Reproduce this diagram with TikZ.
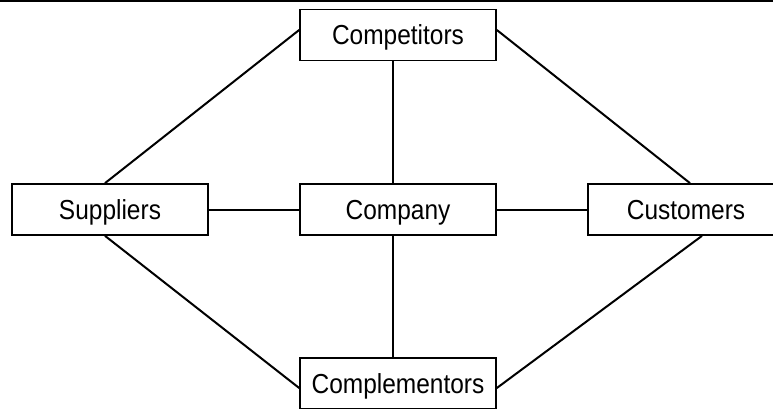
\documentclass[tikz,border=0pt]{standalone}
\usepackage{fontspec}
\setmainfont[FakeStretch=0.89]{Liberation Sans}
\begin{document}
\begin{tikzpicture}[x=1pt,y=1pt,
  box/.style={draw,line width=1.7pt,minimum width=196pt,minimum height=51pt,inner sep=0pt,
    font=\fontsize{27.5}{30}\selectfont,text height=19.6pt,text depth=0pt},
  conn/.style={line width=2pt}]
\useasboundingbox (0,0) rectangle (773,408);
\clip (0,0) rectangle (773,408);
\draw[line width=1.8pt] (0,407.3) -- (773,407.3);
\node[box] (comp) at (398,373) {Competitors};
\node[box] (sup) at (110,198.5) {Suppliers};
\node[box] (co) at (398,198.5) {Company};
\node[box] (cust) at (686,198.5) {Customers};
\node[box] (compl) at (398,24.5) {Complementors};
\draw[conn] ([yshift=5pt]comp.west) -- ([xshift=-5pt]sup.north);
\draw[conn] ([yshift=5pt]comp.east) -- ([xshift=4pt]cust.north);
\draw[conn] ([xshift=-5pt]sup.south) -- ([yshift=-4.5pt]compl.west);
\draw[conn] ([xshift=16pt]cust.south) -- ([yshift=-4.5pt]compl.east);
\draw[conn] ([xshift=-5pt]comp.south) -- ([xshift=-5pt]co.north);
\draw[conn] ([xshift=-5pt]co.south) -- ([xshift=-5pt]compl.north);
\draw[conn] (sup.east) -- (co.west);
\draw[conn] (co.east) -- (cust.west);
\end{tikzpicture}
\end{document}
